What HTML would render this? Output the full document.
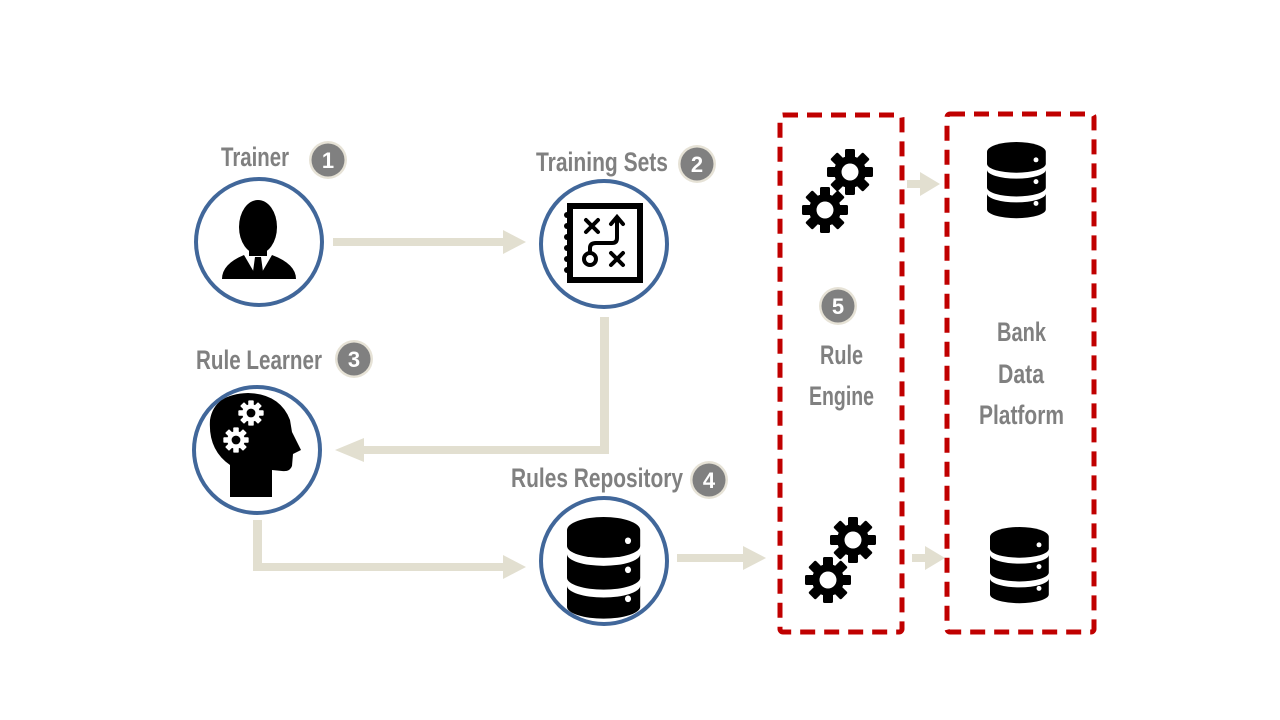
<!DOCTYPE html>
<html><head><meta charset="utf-8"><style>
html,body{margin:0;padding:0;background:#fff;}
svg{display:block;}
.lbl{font-family:"Liberation Sans",sans-serif;font-weight:bold;fill:#808080;}
.num{font-family:"Liberation Sans",sans-serif;font-weight:bold;fill:#fff;font-size:22px;text-anchor:middle;}
</style></head><body>
<svg width="1280" height="720" viewBox="0 0 1280 720" xmlns="http://www.w3.org/2000/svg">
<defs>
<g id="teeth">
    <circle r="16"/>
    <rect x="-5" y="-23" width="10" height="10" rx="1.5"/>
    <rect x="-5" y="-23" width="10" height="10" rx="1.5" transform="rotate(45)"/>
    <rect x="-5" y="-23" width="10" height="10" rx="1.5" transform="rotate(90)"/>
    <rect x="-5" y="-23" width="10" height="10" rx="1.5" transform="rotate(135)"/>
    <rect x="-5" y="-23" width="10" height="10" rx="1.5" transform="rotate(180)"/>
    <rect x="-5" y="-23" width="10" height="10" rx="1.5" transform="rotate(225)"/>
    <rect x="-5" y="-23" width="10" height="10" rx="1.5" transform="rotate(270)"/>
    <rect x="-5" y="-23" width="10" height="10" rx="1.5" transform="rotate(315)"/>
</g>
<g id="gear">
  <use href="#teeth" fill="#000"/>
  <circle r="8.5" fill="#fff"/>
</g>
<g id="wgear">
  <use href="#teeth" fill="#fff"/>
  <circle r="8" fill="#000"/>
</g>
<g id="db">
  <path d="M0 10 A30 10 0 0 1 60 10 V22 A30 9 0 0 1 0 22 Z" fill="#000"/>
  <path d="M0 28 A30 9 0 0 0 60 28 V46 A30 9 0 0 1 0 46 Z" fill="#000"/>
  <path d="M0 52 A30 9 0 0 0 60 52 V68 A30 9 0 0 1 0 68 Z" fill="#000"/>
  <circle cx="50" cy="18" r="2.5" fill="#fff"/>
  <circle cx="50" cy="40" r="2.5" fill="#fff"/>
  <circle cx="50" cy="62" r="2.5" fill="#fff"/>
</g>
<g id="badge">
  <circle r="19" fill="#e6e2d6"/>
  <circle r="16.5" fill="#808080"/>
</g>
</defs>

<g fill="#e2dfd0" stroke="none">
  <rect x="333" y="238" width="172" height="8"/>
  <polygon points="503,230 526,242 503,254"/>
  <rect x="600" y="317" width="9" height="137"/>
  <rect x="360" y="446" width="249" height="8"/>
  <polygon points="364,438 335,450 364,462"/>
  <rect x="253" y="520" width="9" height="51"/>
  <rect x="253" y="563" width="252" height="8"/>
  <polygon points="503,555 526,567 503,579"/>
  <rect x="677" y="554" width="68" height="8"/>
  <polygon points="743,546 766,558 743,570"/>
  <rect x="907" y="180" width="16" height="8"/>
  <polygon points="920,172 940,184 920,196"/>
  <rect x="912" y="554" width="16" height="8"/>
  <polygon points="925,546 945,558 925,570"/>
</g>

<g fill="#fff" stroke="#41679a" stroke-width="4">
  <circle cx="259" cy="242" r="63"/>
  <circle cx="604" cy="244" r="63"/>
  <circle cx="257" cy="450" r="63"/>
  <circle cx="604" cy="561" r="63"/>
</g>

<!-- trainer person -->
<g>
  <ellipse cx="258" cy="227" rx="19" ry="27" fill="#000"/>
  <rect x="249" y="243" width="18" height="14" fill="#000"/>
  <path d="M222 279 Q222 264 244 255 L258 279 Z" fill="#000"/>
  <path d="M296 279 Q296 264 272 255 L258 279 Z" fill="#000"/>
  <polygon points="247,256 269,256 258,279" fill="#fff"/>
  <polygon points="255,257 261,257 264,279 252,279" fill="#000"/>
</g>

<!-- training notebook -->
<g>
  <rect x="570" y="206" width="70" height="74" fill="none" stroke="#000" stroke-width="6"/>
  <g fill="#000">
    <circle cx="567" cy="215" r="3"/><circle cx="567" cy="226" r="3"/><circle cx="567" cy="237" r="3"/>
    <circle cx="567" cy="248" r="3"/><circle cx="567" cy="259" r="3"/><circle cx="567" cy="270" r="3"/>
  </g>
  <g stroke="#000" stroke-width="4" fill="none" stroke-linecap="round">
    <path d="M586 220 L598 232 M598 220 L586 232"/>
    <path d="M611 253 L623 265 M623 253 L611 265"/>
    <circle cx="590" cy="259" r="6"/>
    <path d="M590 253 V248 Q590 243 596 243 H612 Q617 243 617 238 V218"/>
    <path d="M611 224 L617 217 L623 224"/>
  </g>
</g>

<!-- head with gears -->
<path d="M230 497 L230 465 Q208 450 210 420 Q214 394 248 393 Q280 394 290 420 L292 432 L301 450 L293 454 L292 466 Q290 472 282 471 L272 470 L272 497 Z" fill="#000"/>
<g transform="translate(251,413) scale(0.55)"><use href="#wgear"/></g>
<g transform="translate(236,440) scale(0.55)"><use href="#wgear"/></g>

<g transform="translate(567,517) scale(1.22,1.32)"><use href="#db"/></g>
<g transform="translate(987,142) scale(0.98,0.99)"><use href="#db"/></g>
<g transform="translate(990,527) scale(0.98,0.99)"><use href="#db"/></g>

<use href="#gear" x="850" y="172"/>
<use href="#gear" x="825" y="210"/>
<use href="#gear" x="853" y="540"/>
<use href="#gear" x="828" y="580"/>

<g fill="none" stroke="#c00000" stroke-width="5" stroke-dasharray="15 9">
  <rect x="780" y="115" width="122" height="517" rx="3"/>
  <rect x="947" y="114" width="147" height="518" rx="3"/>
</g>

<text class="lbl" x="221" y="166" font-size="27" textLength="68" lengthAdjust="spacingAndGlyphs">Trainer</text>
<text class="lbl" x="536" y="171" font-size="27" textLength="132" lengthAdjust="spacingAndGlyphs">Training Sets</text>
<text class="lbl" x="196" y="369" font-size="27" textLength="126" lengthAdjust="spacingAndGlyphs">Rule Learner</text>
<text class="lbl" x="511" y="487" font-size="27" textLength="172" lengthAdjust="spacingAndGlyphs">Rules Repository</text>
<text class="lbl" x="820" y="364" font-size="27" textLength="43" lengthAdjust="spacingAndGlyphs">Rule</text>
<text class="lbl" x="809" y="405" font-size="27" textLength="65" lengthAdjust="spacingAndGlyphs">Engine</text>
<text class="lbl" x="997" y="341" font-size="27" textLength="49" lengthAdjust="spacingAndGlyphs">Bank</text>
<text class="lbl" x="998" y="383" font-size="27" textLength="46" lengthAdjust="spacingAndGlyphs">Data</text>
<text class="lbl" x="979" y="424" font-size="27" textLength="85" lengthAdjust="spacingAndGlyphs">Platform</text>

<use href="#badge" x="328" y="160"/><text class="num" x="328" y="168">1</text>
<use href="#badge" x="697" y="164"/><text class="num" x="697" y="172">2</text>
<use href="#badge" x="354" y="359"/><text class="num" x="354" y="367">3</text>
<use href="#badge" x="709" y="480"/><text class="num" x="709" y="488">4</text>
<use href="#badge" x="838" y="306"/><text class="num" x="838" y="314">5</text>
</svg>
</body></html>
